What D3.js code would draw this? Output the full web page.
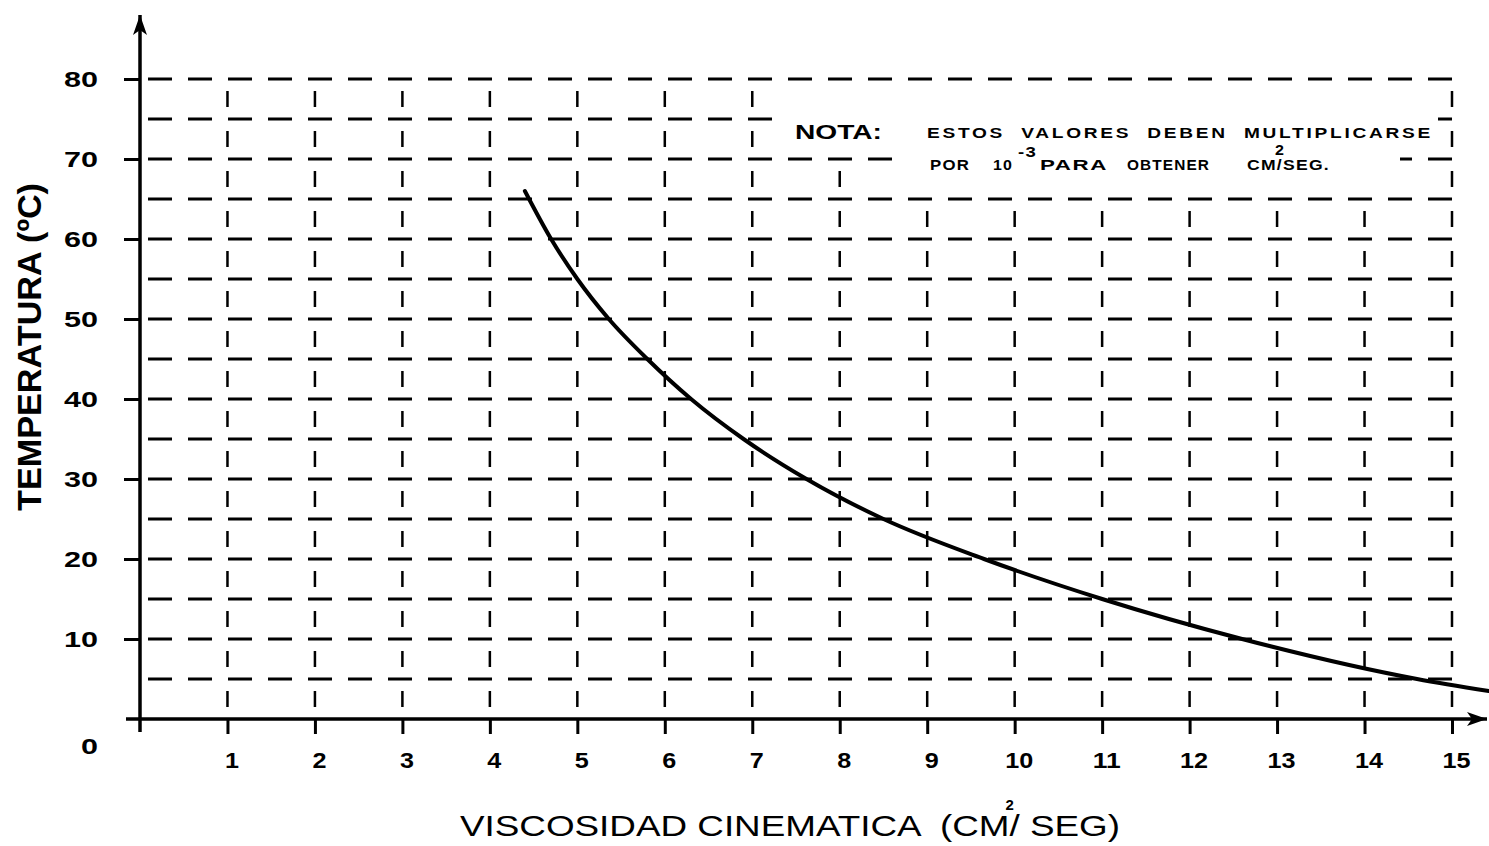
<!DOCTYPE html>
<html>
<head>
<meta charset="utf-8">
<script src="https://cdn.jsdelivr.net/npm/d3@7"></script>
<style>
  body { margin: 0; background: #fff; }
  svg { display: block; }
  .tick text { font-family: "Liberation Sans", Arial, sans-serif; font-weight: bold; font-size: 22px; fill: #000; }
  .tick line { stroke: #000; stroke-width: 3; }
</style>
</head>
<body>
<script>
//data
var xTicks = [1, 2, 3, 4, 5, 6, 7, 8, 9, 10, 11, 12, 13, 14, 15];
var yTicks = [0, 10, 20, 30, 40, 50, 60, 70, 80];
var gridT = [5, 10, 15, 20, 25, 30, 35, 40, 45, 50, 55, 60, 65, 70, 75, 80];
//curve: viscosity (x) against temperature
var curveV = [4.40, 4.70, 5.00, 5.36, 5.80, 6.30, 6.90, 7.62, 8.50, 9.65, 11.00, 12.60, 14.60, 15.42];
var curveT = [66, 60, 55, 50, 45, 40, 35, 30, 25, 20, 15, 10, 5, 3.5];

//hardcoded parameters
var svg_width = 1489;
var svg_height = 846;
var x0 = 140, x15 = 1452;
var y0 = 719, y80 = 79;
var font = '"Liberation Sans", Arial, sans-serif';

var svg = d3.select('body').append('svg')
    .attr('width', svg_width)
    .attr('height', svg_height);

var scale_x = d3.scaleLinear().domain([0, 15]).range([x0, x15]);
var scale_y = d3.scaleLinear().domain([0, 80]).range([y0, y80]);

//grid
var grid = svg.append('g').attr('id', 'grid');
grid.selectAll('line.h').data(gridT).enter().append('line')
    .attr('x1', scale_x(0)).attr('x2', scale_x(15))
    .attr('y1', function(d) { return scale_y(d); })
    .attr('y2', function(d) { return scale_y(d); })
    .attr('stroke', '#000').attr('stroke-width', 3)
    .attr('stroke-dasharray', '24,16').attr('stroke-dashoffset', 32);
grid.selectAll('line.v').data(xTicks).enter().append('line')
    .attr('x1', function(d) { return scale_x(d); })
    .attr('x2', function(d) { return scale_x(d); })
    .attr('y1', scale_y(80)).attr('y2', scale_y(0))
    .attr('stroke', '#000').attr('stroke-width', 2.5)
    .attr('stroke-dasharray', '16,24').attr('stroke-dashoffset', 28);

//note area covers the grid
svg.append('rect').attr('x', 782).attr('y', 90).attr('width', 656).attr('height', 58).attr('fill', '#fff');
svg.append('rect').attr('x', 905).attr('y', 148).attr('width', 495).attr('height', 44).attr('fill', '#fff');

//arrow marker
var defs = svg.append('defs');
defs.append('marker').attr('id', 'arrow')
    .attr('viewBox', '0 0 20 14').attr('refX', 20).attr('refY', 7)
    .attr('markerWidth', 20).attr('markerHeight', 14)
    .attr('markerUnits', 'userSpaceOnUse').attr('orient', 'auto')
    .append('path').attr('d', 'M0,0 L20,7 L0,14 L5,7 Z').attr('fill', '#000');

//axis lines
svg.append('line')
    .attr('x1', 126).attr('x2', 1487).attr('y1', y0).attr('y2', y0)
    .attr('stroke', '#000').attr('stroke-width', 3.5)
    .attr('marker-end', 'url(#arrow)');
svg.append('line')
    .attr('x1', x0).attr('x2', x0).attr('y1', 732).attr('y2', 15)
    .attr('stroke', '#000').attr('stroke-width', 3.5)
    .attr('marker-end', 'url(#arrow)');

//axes (ticks and labels only)
var axis_x = d3.axisBottom(scale_x).tickValues(xTicks).tickSize(15);
var gx = svg.append('g').attr('transform', 'translate(0,' + y0 + ')').call(axis_x);
gx.select('.domain').remove();
gx.selectAll('.tick text')
    .attr('y', 49).attr('dy', 0).attr('dx', 4)
    .attr('textLength', function(d) { return String(d).length * 14; })
    .attr('lengthAdjust', 'spacingAndGlyphs');

var axis_y = d3.axisLeft(scale_y).tickValues(yTicks).tickSize(16).tickPadding(26);
var gy = svg.append('g').attr('transform', 'translate(' + x0 + ',0)').call(axis_y);
gy.select('.domain').remove();
gy.selectAll('.tick text')
    .attr('dy', '0.36em')
    .attr('textLength', function(d) { return String(d).length * 17; })
    .attr('lengthAdjust', 'spacingAndGlyphs');
gy.selectAll('.tick').filter(function(d) { return d === 0; }).select('line').remove();
gy.selectAll('.tick').filter(function(d) { return d === 0; }).select('text')
    .attr('x', -42).attr('dy', 34);

//curve
var pts = curveV.map(function(v, i) { return [v, curveT[i]]; });
var line = d3.line()
    .x(function(d) { return scale_x(d[0]); })
    .y(function(d) { return scale_y(d[1]); })
    .curve(d3.curveMonotoneX);
svg.append('path').datum(pts)
    .attr('d', line)
    .attr('fill', 'none').attr('stroke', '#000').attr('stroke-width', 4)
    .attr('stroke-linecap', 'round');

//note
svg.append('text').attr('x', 795).attr('y', 139)
    .style('font-family', font).style('font-weight', 'bold').style('font-size', '21px')
    .attr('textLength', 87).attr('lengthAdjust', 'spacingAndGlyphs')
    .text('NOTA:');
svg.append('text').attr('x', 927).attr('y', 138)
    .style('font-family', font).style('font-weight', 'bold').style('font-size', '14px')
    .style('letter-spacing', '2px').style('white-space', 'pre')
    .attr('textLength', 506).attr('lengthAdjust', 'spacingAndGlyphs')
    .text('ESTOS  VALORES  DEBEN  MULTIPLICARSE');
var n2 = svg.append('g')
    .style('font-family', font).style('font-weight', 'bold').style('font-size', '14px');
var n2parts = [
    ['POR', 930, 170, 40], ['10', 993, 170, 20], ['-3', 1018, 157, 19],
    ['PARA', 1040, 170, 68], ['OBTENER', 1127, 170, 83], ['CM/SEG.', 1247, 170, 83],
    ['2', 1275, 155, 10]
];
n2parts.forEach(function(p) {
    n2.append('text').attr('x', p[1]).attr('y', p[2])
        .style('font-size', p[0] === '-3' || p[0] === '2' ? '15px' : '14px')
        .style('letter-spacing', '1px')
        .attr('textLength', p[3]).attr('lengthAdjust', 'spacingAndGlyphs')
        .text(p[0]);
});

//axis titles
svg.append('text')
    .attr('transform', 'translate(41,511) rotate(-90)')
    .style('font-family', font).style('font-weight', 'bold').style('font-size', '33px')
    .attr('textLength', 328).attr('lengthAdjust', 'spacingAndGlyphs')
    .text('TEMPERATURA (ºC)');
var xt = svg.append('text')
    .attr('x', 460).attr('y', 836)
    .style('font-family', font)
    .style('font-size', '30px').style('white-space', 'pre')
    .attr('textLength', 660).attr('lengthAdjust', 'spacingAndGlyphs')
    .text('VISCOSIDAD CINEMATICA  (CM/ SEG)');
var slashPos = 1040;
try {
    var node = xt.node();
    slashPos = node.getStartPositionOfChar(node.textContent.indexOf('/')).x;
} catch (e) {}
svg.append('text')
    .attr('x', slashPos - 4).attr('y', 810)
    .style('font-family', font).style('font-weight', 'bold').style('font-size', '15px')
    .text('2');
</script>
</body>
</html>
